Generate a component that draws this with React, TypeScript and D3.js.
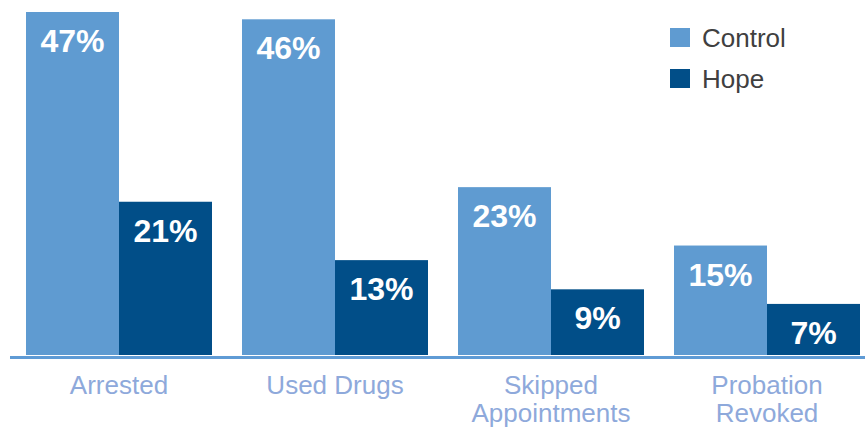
import React from "react";
import * as d3 from "d3";

const categories: string[][] = [["Arrested"], ["Used Drugs"], ["Skipped", "Appointments"], ["Probation", "Revoked"]];
const seriesNames = ["Control", "Hope"];
const controlValues = [47, 46, 23, 15];
const hopeValues = [21, 13, 9, 7];
const colors = ["#5f9bd1", "#014e88"];

const W = 865;
const H = 428;
const FONT = "'Liberation Sans', Arial, sans-serif";

const App = () => {
  const svgRef = React.useRef<SVGSVGElement>(null);

  React.useEffect(() => {
    const svg = d3.select(svgRef.current);
    svg.selectAll("*").remove();

    const keys = categories.map((c) => c.join(" "));
    const pad = 30 / 216;
    const x0 = d3.scaleBand<string>().domain(keys).range([11, 875]).paddingInner(pad).paddingOuter(pad / 2);
    const x1 = d3.scaleBand<string>().domain(seriesNames).range([0, x0.bandwidth()]);
    const y = d3.scaleLinear().domain([0, 47]).range([355, 12]);
    const series = [controlValues, hopeValues];

    const rows = keys.map((k, i) => ({ key: k, lines: categories[i], values: series.map((s) => s[i]) }));

    const groups = svg.selectAll(".grp")
      .data(rows)
      .enter()
      .append("g")
      .attr("transform", (d) => `translate(${x0(d.key)},0)`);

    groups.selectAll("rect")
      .data((d) => d.values.map((v, j) => ({ name: seriesNames[j], v, j })))
      .enter()
      .append("rect")
      .attr("x", (d) => x1(d.name) as number)
      .attr("width", x1.bandwidth())
      .attr("y", (d) => y(d.v))
      .attr("height", (d) => y(0) - y(d.v))
      .attr("fill", (d) => colors[d.j]);

    groups.selectAll(".val")
      .data((d) => d.values.map((v, j) => ({ name: seriesNames[j], v, j })))
      .enter()
      .append("text")
      .attr("x", (d) => (x1(d.name) as number) + x1.bandwidth() / 2)
      .attr("y", (d) => y(d.v) + 40)
      .attr("text-anchor", "middle")
      .attr("fill", "#ffffff")
      .attr("font-family", FONT)
      .attr("font-weight", "bold")
      .attr("font-size", 32)
      .text((d) => `${d.v}%`);

    // category labels
    groups.append("text")
      .attr("text-anchor", "middle")
      .attr("fill", "#8ea9db")
      .attr("font-family", FONT)
      .attr("font-size", 26)
      .selectAll("tspan")
      .data((d) => d.lines)
      .enter()
      .append("tspan")
      .attr("x", x0.bandwidth() / 2)
      .attr("y", (d, i) => 394 + i * 28)
      .text((d) => d);

    // axis line
    svg.append("line")
      .attr("x1", 10)
      .attr("x2", 865)
      .attr("y1", 357.5)
      .attr("y2", 357.5)
      .attr("stroke", "#5f9bd5")
      .attr("stroke-width", 3);

    // legend
    const legend = svg.selectAll(".leg")
      .data(seriesNames)
      .enter()
      .append("g")
      .attr("transform", (d, i) => `translate(670, ${28 + i * 41})`);
    legend.append("rect")
      .attr("width", 20)
      .attr("height", 19)
      .attr("fill", (d, i) => colors[i]);
    legend.append("text")
      .attr("x", 32)
      .attr("y", 19)
      .attr("fill", "#404040")
      .attr("font-family", FONT)
      .attr("font-size", 26)
      .text((d) => d);
  }, []);

  return (
    <svg ref={svgRef} width={W} height={H} style={{ position: "absolute", left: 0, top: 0, background: "#fff" }} />
  );
};

export default App;
